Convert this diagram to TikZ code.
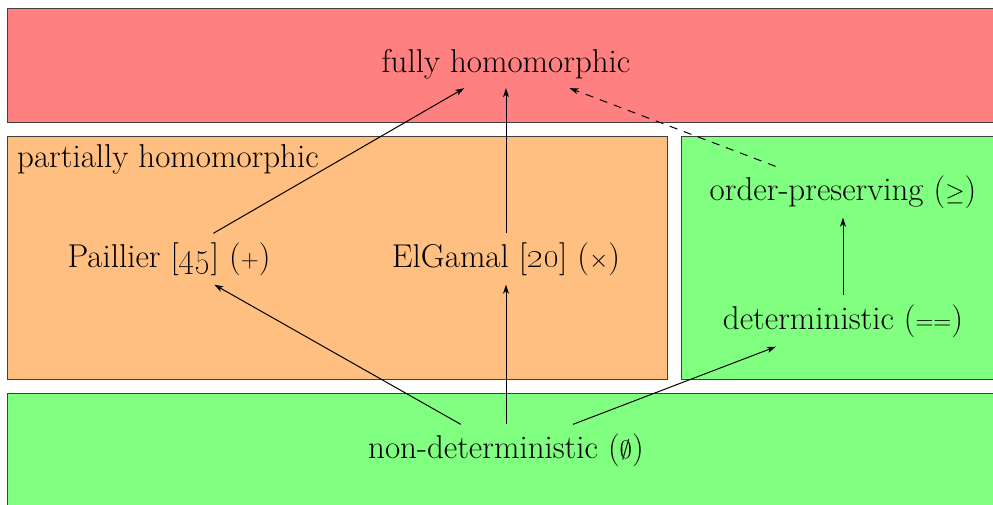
\documentclass[tikz,border=0pt]{standalone}
\usetikzlibrary{arrows.meta}
\begin{document}
\begin{tikzpicture}[x=1pt,y=-1pt,
  every node/.style={font=\fontsize{33}{40}\selectfont, inner sep=9pt},
  region/.style={draw=black!75, line width=1pt},
  arr/.style={line width=1pt, -{Stealth[length=9pt,width=6pt,inset=2.5pt]}},
  darr/.style={arr, dash pattern=on 8pt off 7pt}]
\useasboundingbox (0,0) rectangle (993,504);
\clip (0,0) rectangle (993,504);
\fill[white] (0,0) rectangle (993,504);
\filldraw[region, fill=red!50] (7,8) rectangle (1000,122);
\filldraw[region, fill=orange!50] (7,136) rectangle (667,379);
\filldraw[region, fill=green!50] (681,136) rectangle (1000,379);
\filldraw[region, fill=green!50] (7,393) rectangle (1000,520);
\node (fhe) at (506,64) {fully homomorphic};
\node[anchor=base west, inner sep=0pt] (part) at (17,167) {partially homomorphic};
\node (pai) at (169,259) {Paillier [\oldstylenums{45}] ($+$)};
\node (elg) at (506,259) {ElGamal [\oldstylenums{20}] ($\times$)};
\node (ope) at (843,192) {order-preserving ($\geq$)};
\node (det) at (843,321) {deterministic ($==$)};
\node (nd) at (506,450) {non-deterministic ($\emptyset$)};
\draw[arr] (pai) -- (fhe);
\draw[arr] (elg) -- (fhe);
\draw[darr] (ope) -- (fhe);
\draw[arr] (nd) -- (pai);
\draw[arr] (nd) -- (elg);
\draw[arr] (nd) -- (det);
\draw[arr] (det) -- (ope);
\end{tikzpicture}
\end{document}
